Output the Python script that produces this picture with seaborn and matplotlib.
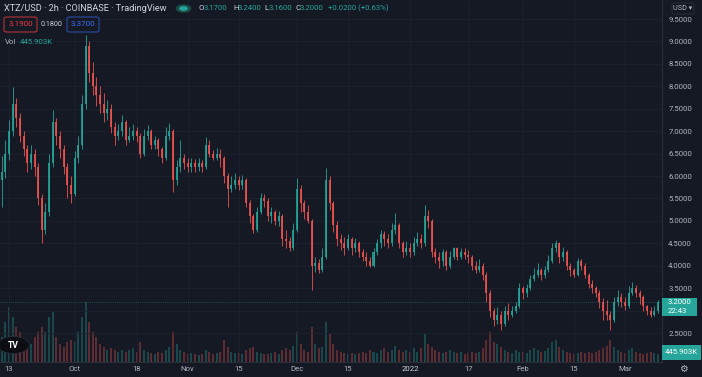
import numpy as np
import pandas as pd
import matplotlib
matplotlib.use("Agg")
import matplotlib.pyplot as plt
import matplotlib.dates as mdates
from matplotlib.patches import Rectangle, FancyBboxPatch, Circle
import seaborn as sns

# ---------------- data (daily aggregation) ----------------
start_date = "2021-09-11"
opens = [5.90, 6.10, 6.50, 7.00, 7.60, 7.30, 6.90, 6.60, 6.30, 6.50,
         6.20, 5.50, 4.80, 5.20, 6.30, 7.20, 6.90, 6.60, 6.20, 5.80,
         5.60, 6.40, 6.70, 7.60, 8.90, 8.30, 8.00, 7.80, 7.60, 7.40,
         7.50, 7.10, 6.90, 7.00, 7.20, 6.80, 6.90, 7.00, 6.90, 6.50,
         6.90, 7.00, 6.70, 6.80, 6.60, 6.40, 6.90, 7.00, 5.90, 6.20,
         6.40, 6.30, 6.20, 6.30, 6.20, 6.30, 6.20, 6.70, 6.50, 6.40,
         6.50, 6.40, 6.00, 5.70, 5.80, 5.90, 5.80, 5.90, 5.40, 5.10,
         4.80, 5.20, 5.50, 5.45, 5.10, 5.20, 5.00, 5.10, 4.60, 4.55,
         4.40, 4.80, 5.70, 5.40, 5.20, 5.00, 4.00, 4.05, 3.90, 4.20,
         5.90, 5.40, 4.90, 4.60, 4.50, 4.40, 4.60, 4.40, 4.50, 4.30,
         4.20, 4.10, 4.00, 4.30, 4.50, 4.70, 4.60, 4.50, 4.80, 4.90,
         4.50, 4.30, 4.40, 4.30, 4.50, 4.60, 4.50, 5.10, 5.00, 4.30,
         4.20, 4.10, 4.30, 4.00, 4.20, 4.40, 4.20, 4.30, 4.25, 4.20,
         4.00, 3.90, 4.00, 3.80, 3.40, 3.00, 2.80, 2.90, 2.70, 3.00,
         2.90, 3.00, 3.10, 3.50, 3.40, 3.50, 3.70, 3.80, 3.90, 3.80,
         3.90, 4.10, 4.40, 4.50, 4.20, 4.30, 4.00, 3.90, 3.80, 4.10,
         4.00, 3.80, 3.60, 3.50, 3.40, 3.20, 3.00, 2.90, 2.80, 3.20,
         3.30, 3.20, 3.10, 3.40, 3.50, 3.40, 3.30, 3.10, 3.00, 2.90,
         3.00]
highs = [6.45, 6.80, 7.25, 7.98, 7.75, 7.40, 7.00, 6.70, 6.70, 6.60,
         6.30, 5.60, 5.40, 6.50, 7.47, 7.30, 7.00, 6.70, 6.30, 6.00,
         6.55, 6.90, 7.80, 9.14, 9.00, 8.55, 8.20, 8.00, 7.85, 7.70,
         7.60, 7.20, 7.15, 7.35, 7.25, 7.10, 7.15, 7.10, 6.95, 7.05,
         7.14, 7.05, 6.90, 6.85, 6.65, 7.10, 7.18, 7.05, 6.35, 6.80,
         6.50, 6.40, 6.40, 6.38, 6.40, 6.35, 6.87, 6.80, 6.58, 6.62,
         6.60, 6.45, 6.07, 6.00, 6.07, 6.00, 6.02, 5.95, 5.47, 5.15,
         5.30, 5.62, 5.60, 5.50, 5.30, 5.24, 5.22, 5.15, 4.80, 4.65,
         4.95, 5.95, 5.80, 5.47, 5.35, 5.05, 4.20, 4.15, 4.40, 6.18,
         6.00, 5.45, 5.00, 4.70, 4.64, 4.70, 4.64, 4.62, 4.55, 4.38,
         4.30, 4.20, 4.40, 4.60, 4.80, 4.78, 4.70, 4.95, 5.18, 4.95,
         4.55, 4.55, 4.50, 4.65, 4.75, 4.70, 5.35, 5.25, 5.05, 4.40,
         4.30, 4.38, 4.35, 4.32, 4.42, 4.42, 4.40, 4.40, 4.35, 4.25,
         4.10, 4.15, 4.05, 3.85, 3.45, 3.05, 3.08, 3.00, 3.10, 3.17,
         3.10, 3.20, 3.61, 3.55, 3.60, 3.80, 3.95, 4.06, 3.95, 4.00,
         4.25, 4.50, 4.57, 4.52, 4.42, 4.35, 4.05, 3.95, 4.17, 4.15,
         4.05, 3.84, 3.68, 3.55, 3.45, 3.28, 3.24, 3.00, 3.30, 3.46,
         3.39, 3.30, 3.55, 3.64, 3.58, 3.45, 3.35, 3.12, 3.08, 3.10,
         3.24]
lows = [5.30, 5.95, 6.35, 6.90, 7.10, 6.75, 6.45, 6.10, 6.15, 6.00,
        5.35, 4.51, 4.70, 5.10, 6.20, 6.70, 6.40, 6.05, 5.50, 5.40,
        5.55, 6.30, 6.60, 7.50, 8.10, 7.80, 7.55, 7.40, 7.20, 7.25,
        6.95, 6.70, 6.80, 6.90, 6.70, 6.75, 6.80, 6.75, 6.40, 6.45,
        6.80, 6.60, 6.60, 6.45, 6.29, 6.35, 6.80, 5.64, 5.80, 6.10,
        6.15, 6.09, 6.10, 6.10, 6.12, 6.09, 6.15, 6.42, 6.36, 6.35,
        6.20, 5.85, 5.31, 5.65, 5.70, 5.69, 5.72, 5.30, 4.95, 4.73,
        4.75, 5.15, 5.30, 5.00, 4.95, 4.90, 4.88, 4.45, 4.40, 4.32,
        4.35, 4.75, 5.20, 5.05, 4.95, 3.46, 3.85, 3.84, 3.85, 4.15,
        5.25, 4.75, 4.45, 4.35, 4.25, 4.35, 4.25, 4.30, 4.20, 4.10,
        4.00, 3.97, 3.98, 4.25, 4.40, 4.45, 4.40, 4.45, 4.70, 4.40,
        4.20, 4.25, 4.20, 4.25, 4.45, 4.40, 4.45, 4.85, 4.20, 4.05,
        3.95, 4.00, 3.90, 3.95, 4.15, 4.13, 4.15, 4.15, 4.05, 3.90,
        3.84, 3.85, 3.68, 3.20, 2.85, 2.65, 2.70, 2.57, 2.65, 2.80,
        2.86, 2.95, 3.05, 3.25, 3.30, 3.45, 3.65, 3.75, 3.68, 3.72,
        3.85, 4.05, 4.30, 4.06, 4.10, 3.90, 3.78, 3.75, 3.78, 3.90,
        3.72, 3.50, 3.40, 3.30, 3.05, 2.80, 2.79, 2.57, 2.75, 3.10,
        3.08, 3.02, 3.05, 3.35, 3.30, 3.15, 3.00, 2.90, 2.86, 2.88,
        2.95]
closes = [6.10, 6.50, 7.00, 7.60, 7.30, 6.90, 6.60, 6.30, 6.50, 6.20,
          5.50, 4.80, 5.20, 6.30, 7.20, 6.90, 6.60, 6.20, 5.80, 5.60,
          6.40, 6.70, 7.60, 8.90, 8.30, 8.00, 7.80, 7.60, 7.40, 7.50,
          7.10, 6.90, 7.00, 7.20, 6.80, 6.90, 7.00, 6.90, 6.50, 6.90,
          7.00, 6.70, 6.80, 6.60, 6.40, 6.90, 7.00, 5.90, 6.20, 6.40,
          6.30, 6.20, 6.30, 6.20, 6.30, 6.20, 6.70, 6.50, 6.40, 6.50,
          6.40, 6.00, 5.70, 5.80, 5.90, 5.80, 5.90, 5.40, 5.10, 4.80,
          5.20, 5.50, 5.45, 5.10, 5.20, 5.00, 5.10, 4.60, 4.55, 4.40,
          4.80, 5.70, 5.40, 5.20, 5.00, 4.00, 4.05, 3.90, 4.20, 5.90,
          5.40, 4.90, 4.60, 4.50, 4.40, 4.60, 4.40, 4.50, 4.30, 4.20,
          4.10, 4.00, 4.30, 4.50, 4.70, 4.60, 4.50, 4.80, 4.90, 4.50,
          4.30, 4.40, 4.30, 4.50, 4.60, 4.50, 5.10, 5.00, 4.30, 4.20,
          4.10, 4.30, 4.00, 4.20, 4.40, 4.20, 4.30, 4.25, 4.20, 4.00,
          3.90, 4.00, 3.80, 3.40, 3.00, 2.80, 2.90, 2.70, 3.00, 2.90,
          3.00, 3.10, 3.50, 3.40, 3.50, 3.70, 3.80, 3.90, 3.80, 3.90,
          4.10, 4.40, 4.50, 4.20, 4.30, 4.00, 3.90, 3.80, 4.10, 4.00,
          3.80, 3.60, 3.50, 3.40, 3.20, 3.00, 2.90, 2.80, 3.20, 3.30,
          3.20, 3.10, 3.40, 3.50, 3.40, 3.30, 3.10, 3.00, 2.90, 3.00,
          3.20]
volumes_k = [2500, 4000, 5500, 4500, 3500, 3000,
             2000, 1500, 1800, 2500, 3000,
             3500, 3000, 4500, 5000,
             2500, 1800, 1500, 2000, 2200, 2000,
             3000, 4500, 6000, 4000, 3000, 2500,
             1800, 1500, 1200, 1400, 1200, 1000, 1200, 1000, 1200,
             1400, 1000, 2000, 1200, 1000, 900, 800, 1000, 900, 1200,
             1500, 3000, 1800, 1200, 1000,
             800, 900, 800, 700, 800, 1200, 1000, 800, 900, 1000,
             2200, 1500, 1000, 900, 900, 800, 1200, 1400, 1500, 1000,
             900, 800, 800, 900, 1000, 800, 1200, 1400, 1200, 1600,
             3000, 1800, 1200, 1000, 3500, 1800, 1400, 1500, 4000, 2800,
             1800, 1200, 1000, 900, 800, 900, 800, 900, 1000, 900,
             1200, 1000, 900, 1200, 1400, 1000, 1200, 1600, 1200, 1000,
             1200, 1000, 1400, 1000, 1400, 2800, 1800, 1500, 1200, 1000,
             900, 1000, 1200, 1000, 900, 1000, 800, 900, 1000, 900,
             1000, 1400, 2200, 3000, 2000, 1800, 1500, 1200, 1000, 900,
             1200, 1000, 1000, 900, 1200, 1400, 1200, 1000, 1100, 1400,
             2000, 2200, 1500, 1200, 1000, 900, 800, 900, 1000, 900,
             1000, 900, 1000, 1200, 1400, 1600, 2200, 1500, 1200, 1000,
             900, 1200, 1400, 1000, 900, 800, 900, 1000, 900, 800]
price_ticks = [2.5, 3.0, 3.5, 4.0, 4.5, 5.0, 5.5, 6.0, 6.5, 7.0, 7.5, 8.0, 8.5, 9.0, 9.5]
date_ticks = ["2021-09-13", "2021-10-01", "2021-10-18", "2021-11-01", "2021-11-15",
              "2021-12-01", "2021-12-15", "2022-01-01", "2022-01-17", "2022-02-01",
              "2022-02-15", "2022-03-01"]
date_labels = ["13", "Oct", "18", "Nov", "15", "Dec", "15", "2022", "17", "Feb", "15", "Mar"]
last_price = 3.20

# ---------------- style ----------------
BG = "#151924"
GRID = "#1e2230"
UP = "#26a69a"
DN = "#ef5350"
TXT = "#b2b5be"

sns.set_theme(style="dark", rc={"axes.facecolor": BG, "figure.facecolor": BG})
plt.rcParams["font.family"] = ["Roboto", "DejaVu Sans"]

W, H = 702, 377
fig = plt.figure(figsize=(W / 100, H / 100), dpi=100, facecolor=BG)
ax = fig.add_axes([0, 15 / H, 662 / W, 362 / H])
axv = ax.twinx()

df = pd.DataFrame({
    "date": pd.date_range(start_date, periods=len(closes), freq="D"),
    "open": opens, "high": highs, "low": lows, "close": closes, "volume": volumes_k,
})
df["x"] = mdates.date2num(df["date"])
df["up"] = df["close"] >= df["open"]
df["color"] = np.where(df["up"], UP, DN)
df["body_lo"] = df[["open", "close"]].min(axis=1)
df["body_h"] = (df["close"] - df["open"]).abs().clip(lower=0.02)

# volume (behind)
axv.bar(df["x"], df["volume"], width=0.55, color=df["color"], alpha=0.33, linewidth=0)
axv.set_ylim(0, 362 * 100)
axv.set_yticks([])
axv.set_facecolor(BG)
for s in axv.spines.values():
    s.set_visible(False)

ax.set_zorder(axv.get_zorder() + 1)
ax.patch.set_visible(False)

# candles
ax.vlines(df["x"], df["low"], df["high"], colors=df["color"], linewidth=0.7, alpha=0.85)
ax.bar(df["x"], df["body_h"], bottom=df["body_lo"], width=0.55, color=df["color"], linewidth=0, alpha=0.85)
ax.axhline(last_price, color=UP, lw=0.6, alpha=0.5, ls=(0, (1, 1.5)))

# axes scales
sep13 = mdates.date2num(pd.Timestamp("2021-09-13"))
ppd = 3.645
ax.set_xlim(sep13 - 9 / ppd, sep13 + (662 - 9) / ppd)
ax.set_ylim(9.5 - (362 - 19) / 44.86, 9.5 + 19 / 44.86)

ax.yaxis.tick_right()
ax.set_yticks(price_ticks)
# the 3.0000 label sits under the last-price tag in the reference
ax.set_yticklabels(["" if v == 3.0 else f"{v:.4f}" for v in price_ticks])
ax.tick_params(axis="y", length=0, pad=4.5, labelsize=5.6, labelcolor=TXT)
ax.set_xticks(mdates.date2num(pd.to_datetime(date_ticks)))
ax.set_xticklabels(date_labels)
ax.tick_params(axis="x", length=0, pad=3, labelsize=5.6, labelcolor=TXT)
for lab in ax.get_xticklabels():
    if lab.get_text() == "2022":
        lab.set_color("#d1d4dc")
ax.grid(True, color=GRID, lw=0.6)
ax.set_axisbelow(True)
for k, s in ax.spines.items():
    s.set_visible(k in ("right", "bottom"))
    s.set_color("#2a2e39")
    s.set_linewidth(0.8)


# ---------------- overlay texts ----------------
def fx(x):
    return x / W


def fy(y):
    return 1 - y / H


def ftxt(x, y, s, **kw):
    kw.setdefault("va", "center")
    kw.setdefault("ha", "left")
    kw.setdefault("zorder", 11)
    fig.text(fx(x), fy(y), s, **kw)


def frect(x0, y0, x1, y1, **kw):
    fig.add_artist(Rectangle((fx(x0), fy(y1)), fx(x1) - fx(x0), fy(y0) - fy(y1),
                             transform=fig.transFigure, zorder=10, **kw))


def fbox(x0, y0, x1, y1, **kw):
    fig.add_artist(FancyBboxPatch((fx(x0), fy(y1)), fx(x1) - fx(x0), fy(y0) - fy(y1),
                                  boxstyle="round,pad=0,rounding_size=0.004",
                                  transform=fig.transFigure, zorder=10, **kw))


ftxt(4, 8.5, "XTZ/USD · 2h · COINBASE · TradingView", color="#d1d4dc", fontsize=6.6)
fig.add_artist(Circle((fx(183.5), fy(8.5)), 4.2 / H, transform=fig.transFigure,
                      facecolor="#1b4d48", edgecolor="none", zorder=10))
fig.add_artist(Circle((fx(183.5), fy(8.5)), 2.3 / H, transform=fig.transFigure,
                      facecolor=UP, edgecolor="none", zorder=11))
segs = [(199, "O", "3.1700"), (233, "H", "3.2400"), (264, "L", "3.1600"), (295, "C", "3.2000")]
for x, k, v in segs:
    ftxt(x, 8.5, k, color="#d1d4dc", fontsize=5.6)
    ftxt(x + 5, 8.5, v, color=UP, fontsize=5.6)
ftxt(328, 8.5, "+0.0200 (+0.63%)", color=UP, fontsize=5.6)

fbox(4, 17, 37, 32, facecolor=BG, edgecolor="#b2323a", lw=0.8)
ftxt(20.5, 24.5, "3.1900", color="#f23645", fontsize=5.8, ha="center")
ftxt(52, 24.5, "0.1800", color="#d1d4dc", fontsize=5.2, ha="center")
fbox(67, 17, 99, 32, facecolor=BG, edgecolor="#2a4aa8", lw=0.8)
ftxt(83, 24.5, "3.3700", color="#3b6cf5", fontsize=5.8, ha="center")
ftxt(5, 42, "Vol", color=TXT, fontsize=5.6)
ftxt(20, 42, "445.903K", color=UP, fontsize=5.6)

# price-scale widgets
fbox(672, 3, 694, 14, facecolor=BG, edgecolor="#2a2e39", lw=0.7)
ftxt(683, 8.5, "USD ▾", color=TXT, fontsize=5.2, ha="center")

frect(662, 298, 697, 316, facecolor=UP, edgecolor="none")
ftxt(668, 302.5, "3.2000", color="white", fontsize=5.6)
ftxt(668, 311, "22:43", color="white", fontsize=5.6)
frect(662, 345, 701, 360, facecolor=UP, edgecolor="none")
ftxt(681.5, 352.5, "445.903K", color="white", fontsize=5.6, ha="center")
ftxt(683.5, 369, "⚙", color=TXT, fontsize=7, ha="center")

# logo
fig.add_artist(Circle((fx(13.5), fy(345)), 8.5 / H, transform=fig.transFigure,
                      facecolor="#0c0e13", edgecolor="#2a2e39", lw=0.5, zorder=10))
ftxt(13.5, 345.5, "TV", color="white", fontsize=6.2, fontweight="bold", ha="center")

fig.savefig("out.png", dpi=100, facecolor=BG)
